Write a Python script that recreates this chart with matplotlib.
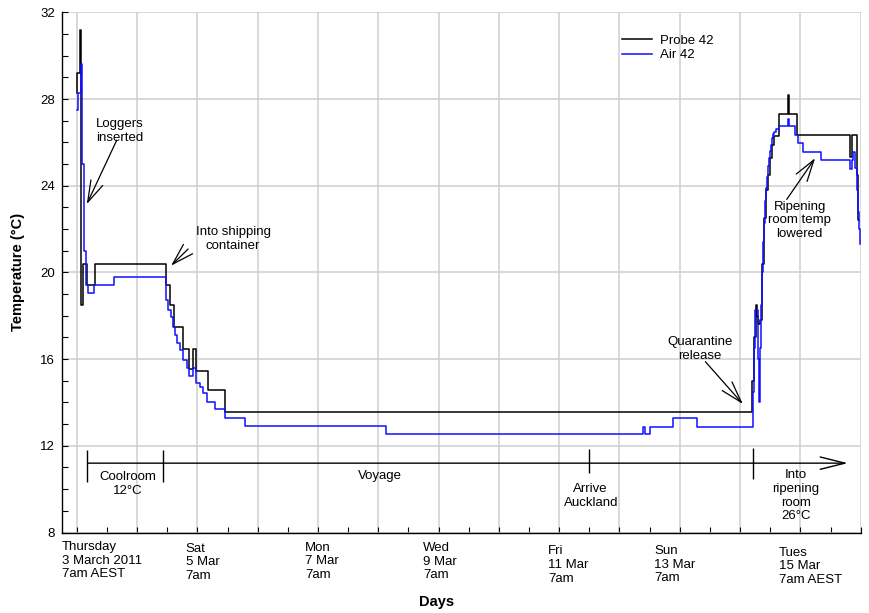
import matplotlib
matplotlib.use("Agg")
import matplotlib.pyplot as plt
import matplotlib.transforms as mtransforms
import numpy as np

plt.rcParams['font.family'] = ['Liberation Sans', 'DejaVu Sans']

# logger readings, x in days from Thursday 3 March 7am
probe_days = [0.000, 0.010, 0.055, 0.070, 0.100, 0.166, 0.299, 1.476, 1.547, 1.614,
              1.768, 1.867, 1.934, 1.978, 2.182, 2.459, 11.204, 11.224, 11.257, 11.282,
              11.299, 11.323, 11.357, 11.390, 11.423, 11.456, 11.489, 11.522, 11.556, 11.652,
              11.791, 11.808, 11.940, 12.824, 12.852, 12.935, 12.952, 12.973]
probe_temp = [28.3, 29.2, 31.2, 18.5, 20.4, 19.4, 20.4, 19.4, 18.5, 17.47,
              16.47, 15.55, 16.47, 15.47, 14.58, 13.56, 15.0, 17.0, 18.5, 18.0,
              17.6, 17.8, 20.4, 22.5, 23.8, 24.5, 25.3, 25.9, 26.3, 27.3,
              28.2, 27.3, 26.34, 25.34, 26.34, 24.5, 22.4, 22.4]

air_days = [0.000, 0.017, 0.066, 0.090, 0.120, 0.149, 0.182, 0.292, 0.620, 1.480,
            1.519, 1.559, 1.592, 1.630, 1.658, 1.713, 1.768, 1.824, 1.867, 1.934,
            1.975, 2.045, 2.101, 2.166, 2.293, 2.466, 2.796, 5.130, 9.396, 9.430,
            9.502, 9.884, 10.282, 11.215, 11.232, 11.250, 11.290, 11.315, 11.332, 11.348,
            11.365, 11.381, 11.398, 11.415, 11.431, 11.448, 11.464, 11.481, 11.498, 11.514,
            11.531, 11.548, 11.564, 11.597, 11.652, 11.791, 11.808, 11.912, 11.962, 12.050,
            12.343, 12.824, 12.852, 12.873, 12.912, 12.935, 12.952, 12.968, 12.990]
air_temp = [27.5, 28.3, 29.6, 25.0, 21.0, 19.4, 19.04, 19.4, 19.8, 18.73,
            18.27, 17.96, 17.50, 17.12, 16.73, 16.42, 15.96, 15.58, 15.22, 15.58,
            14.89, 14.73, 14.42, 14.04, 13.69, 13.3, 12.92, 12.53, 12.89, 12.53,
            12.89, 13.27, 12.89, 14.5, 16.5, 18.27, 16.0, 14.04, 16.5, 18.5,
            20.0, 21.4, 22.3, 23.3, 23.9, 24.4, 24.9, 25.3, 25.6, 25.9,
            26.2, 26.4, 26.5, 26.6, 26.77, 27.1, 26.77, 26.34, 25.96, 25.57,
            25.19, 24.77, 25.2, 25.57, 24.8, 23.8, 22.8, 22.0, 21.3]

day_labels = ["Thursday\n3 March 2011\n7am AEST", "Sat\n5 Mar\n7am", "Mon\n7 Mar\n7am",
              "Wed\n9 Mar\n7am", "Fri\n11 Mar\n7am", "Sun\n13 Mar\n7am",
              "Tues\n15 Mar\n7am AEST"]
day_label_x = [-0.244, 1.804, 3.786, 5.743, 7.816, 9.574, 11.647]
day_label_drop = [0, 1.7, 0.7, 1, 4.3, 4, 5.7]

# stages of the trip along the bottom bar
stage_ticks = [0.166, 1.426, 8.496, 11.211]
stage_tick_lo = [10.35, 10.35, 10.76, 10.47]
stage_tick_hi = [11.80, 11.80, 11.84, 11.92]
stage_text = ["Coolroom\n12\u00b0C", "Voyage", "Arrive\nAuckland", "Into\nripening\nroom\n26\u00b0C"]
stage_text_x = [0.851, 5.030, 8.524, 11.929]
stage_text_y = [10.24, 10.61, 9.69, 9.69]

LS = 1.18

fig = plt.figure(figsize=(8.7, 6.13), dpi=100)
ax = fig.add_axes([0.0709, 0.1313, 0.9184, 0.8486])

ax.plot(probe_days, probe_temp, color='black', lw=1.1, drawstyle='steps-post', label='Probe 42')
ax.plot(air_days, air_temp, color='#1010ff', lw=1.1, drawstyle='steps-post', label='Air 42')

ax.set_xlim(-0.25, 13.0)
ax.set_ylim(8, 32)
ax.set_xticks(np.arange(0, 13.01, 1))
ax.set_xticks(np.arange(0.5, 13, 1), minor=True)
ax.set_yticks(np.arange(8, 33, 4))
ax.set_yticks(np.arange(8, 33, 1), minor=True)
ax.set_xticklabels([])
ax.tick_params(which='both', direction='in', length=4, width=0.8, labelsize=9.5, pad=5)
ax.grid(True, which='major', color='#cfcfcf', lw=1.1)
ax.set_axisbelow(True)
for s in ['top', 'right']:
    ax.spines[s].set_visible(False)
for s in ['left', 'bottom']:
    ax.spines[s].set_linewidth(1.0)

leg = ax.legend(loc='upper left', bbox_to_anchor=(0.701, 0.957), frameon=False,
                fontsize=9.5, handlelength=2.3, handletextpad=0.6, borderpad=0,
                borderaxespad=0, labelspacing=0.15)

# day labels under the axis
trans = mtransforms.blended_transform_factory(ax.transData, ax.transAxes)
for x, lab, dy in zip(day_label_x, day_labels, day_label_drop):
    ax.text(x, -0.0164 - dy / 520.2, lab, transform=trans, ha='left', va='top',
            fontsize=9.5, linespacing=LS)

fig.text(18 / 870, 1 - 272 / 613, 'Temperature (\u00b0C)', rotation=90, ha='center',
         va='center', fontsize=10.5, fontweight='bold')
fig.text(437 / 870, 1 - 602 / 613, 'Days', ha='center', va='center', fontsize=10.5,
         fontweight='bold')

# stage bar
ax.annotate('', xy=(12.786, 11.2), xytext=(0.19, 11.2),
            arrowprops=dict(arrowstyle='->, head_length=1.78, head_width=0.445',
                            lw=1.0, color='black', shrinkA=0, shrinkB=0, mutation_scale=10))
ax.vlines(stage_ticks, stage_tick_lo, stage_tick_hi, color='black', lw=1.0)
for x, y, t in zip(stage_text_x, stage_text_y, stage_text):
    ax.text(x, y, t, ha='center', va='center', fontsize=9.5, linespacing=LS)

# event notes
arrow = dict(arrowstyle='->, head_length=1.55, head_width=0.47', lw=0.9,
             color='black', shrinkA=0, shrinkB=0, mutation_scale=10)
notes = [("Loggers\ninserted", (0.718, 26.52), (0.166, 23.15), (0.663, 26.1)),
         ("Into shipping\ncontainer", (2.593, 21.54), (1.564, 20.31), (1.846, 21.08)),
         ("Quarantine\nrelease", (10.337, 16.46), (11.045, 13.93), (10.425, 15.88)),
         ("Ripening\nroom temp\nlowered", (11.987, 22.40), (12.244, 25.27), (11.774, 23.37))]
for txt, pos, tip, tail in notes:
    ax.text(pos[0], pos[1], txt, ha='center', va='center', fontsize=9.5, linespacing=LS)
    ax.annotate('', xy=tip, xytext=tail, arrowprops=arrow)

fig.savefig('out.png', dpi=100)
